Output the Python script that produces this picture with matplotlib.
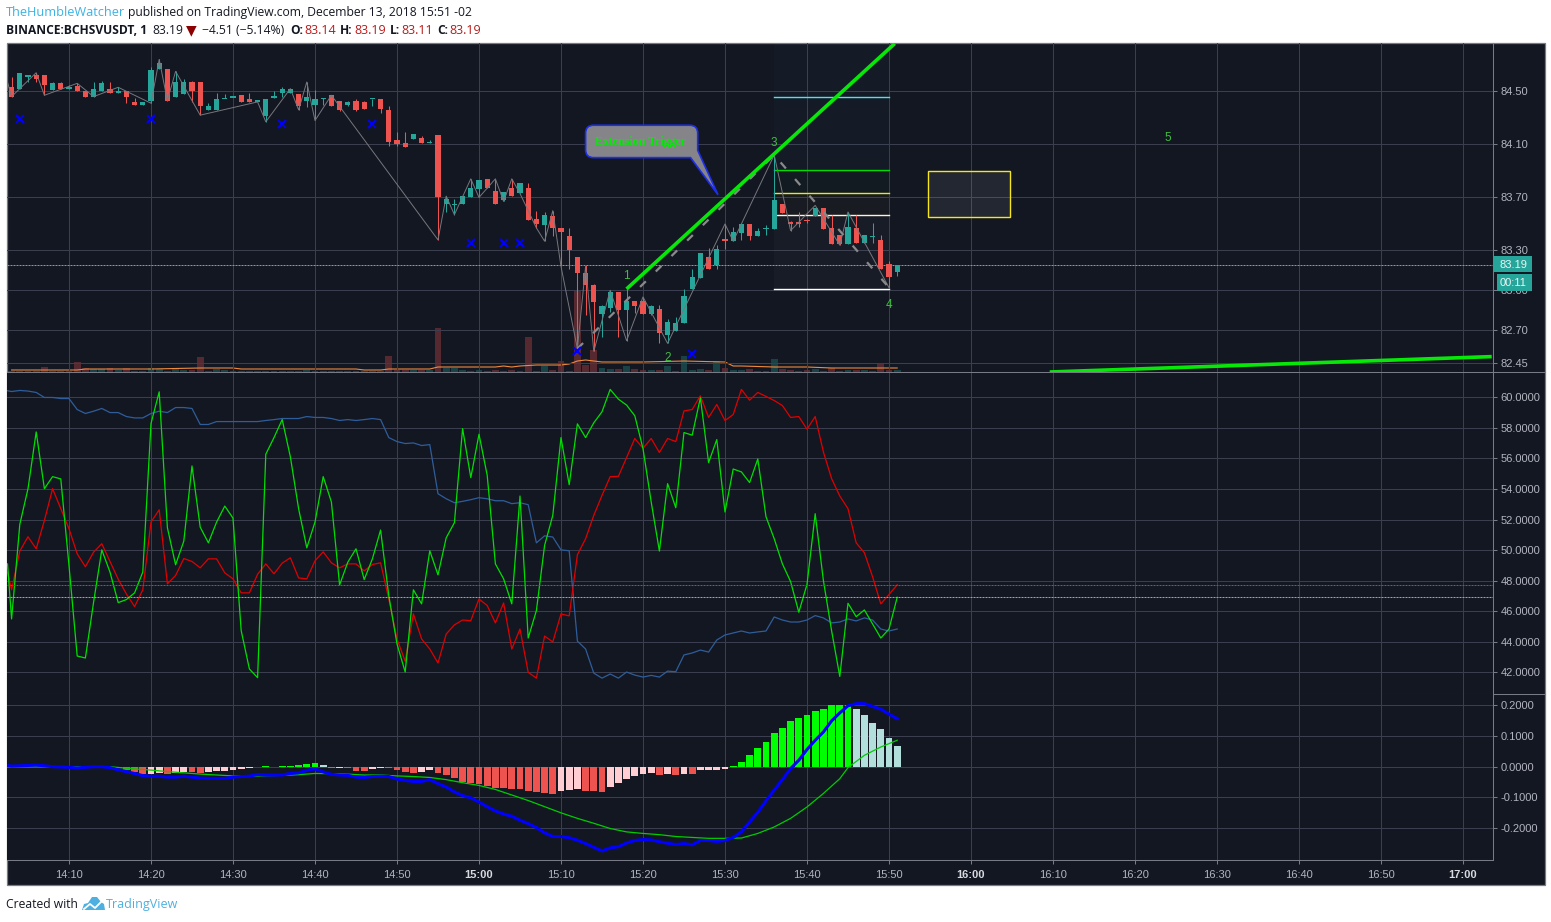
import numpy as np
import matplotlib
matplotlib.use("Agg")
from matplotlib import pyplot as plt
from matplotlib.patches import Rectangle, Polygon, PathPatch
from matplotlib.path import Path

W, H = 1551, 922
BG = "#131722"
GRID = "#3a3e4e"
AXIS = "#787b86"
LABEL = "#b2b5be"
UP = "#26a69a"
DOWN = "#ef5350"

# minutes counted from 14:00, one candle per minute
minutes = np.arange(3, 112)

opens = [84.53,84.52,84.61,84.62,84.62,84.51,84.56,84.52,84.54,84.50,
         84.46,84.50,84.52,84.49,84.50,84.42,84.40,84.43,84.67,84.67,
         84.46,84.48,84.57,84.57,84.36,84.36,84.44,84.45,84.47,84.44,
         84.42,84.31,84.45,84.49,84.49,84.48,84.43,84.40,84.44,84.47,
         84.43,84.40,84.43,84.42,84.44,84.44,84.36,84.13,84.11,84.14,
         84.15,84.11,84.17,83.65,83.64,83.65,83.70,83.76,83.84,83.75,
         83.68,83.77,83.73,83.77,83.54,83.49,83.56,83.47,83.41,83.25,
         83.13,83.04,82.82,82.87,82.99,82.85,82.92,82.92,82.82,82.86,
         82.66,82.69,82.75,83.01,83.09,83.25,83.19,83.39,83.37,83.43,
         83.50,83.41,83.46,83.46,83.65,83.51,83.51,83.53,83.56,83.62,
         83.47,83.42,83.35,83.47,83.36,83.40,83.38,83.20,83.14]
highs = [84.61,84.64,84.62,84.64,84.62,84.57,84.57,84.55,84.56,84.50,
         84.57,84.58,84.57,84.53,84.50,84.45,84.42,84.68,84.74,84.67,
         84.65,84.59,84.58,84.57,84.41,84.49,84.48,84.45,84.47,84.49,
         84.42,84.44,84.50,84.53,84.52,84.48,84.57,84.51,84.45,84.47,
         84.43,84.43,84.44,84.43,84.44,84.44,84.39,84.19,84.19,84.18,
         84.16,84.13,84.17,83.71,83.69,83.71,83.84,83.83,83.84,83.84,
         83.74,83.84,83.81,83.81,83.60,83.59,83.60,83.47,83.47,83.25,
         83.19,83.05,82.89,83.00,82.99,83.01,82.92,82.95,82.89,82.89,
         82.78,82.80,83.01,83.16,83.28,83.32,83.34,83.50,83.48,83.50,
         83.50,83.47,83.49,84.02,83.65,83.52,83.59,83.54,83.62,83.62,
         83.57,83.42,83.59,83.57,83.42,83.51,83.42,83.22,83.19]
lows = [84.46,84.52,84.57,84.57,84.47,84.51,84.52,84.52,84.50,84.46,
        84.46,84.50,84.49,84.49,84.41,84.40,84.40,84.41,84.67,84.43,
        84.46,84.48,84.42,84.32,84.36,84.36,84.45,84.45,84.42,84.42,
        84.42,84.27,84.45,84.46,84.49,84.36,84.38,84.28,84.40,84.39,
        84.35,84.39,84.35,84.37,84.39,84.34,84.09,84.09,84.08,84.14,
        84.11,84.11,83.38,83.59,83.57,83.65,83.70,83.70,83.77,83.65,
        83.67,83.71,83.73,83.53,83.47,83.37,83.41,83.18,83.16,82.56,
        82.81,82.54,82.65,82.84,82.65,82.62,82.83,82.82,82.81,82.60,
        82.60,82.69,82.75,83.01,83.09,83.16,83.16,83.31,83.37,83.38,
        83.38,83.41,83.42,83.46,83.58,83.45,83.48,83.51,83.56,83.46,
        83.35,83.34,83.35,83.36,83.36,83.36,83.16,83.02,83.11]
closes = [84.46,84.64,84.62,84.59,84.55,84.56,84.52,84.53,84.50,84.46,
          84.52,84.56,84.49,84.50,84.46,84.40,84.42,84.66,84.71,84.43,
          84.57,84.57,84.50,84.39,84.39,84.44,84.45,84.45,84.42,84.42,
          84.42,84.44,84.45,84.52,84.52,84.39,84.46,84.44,84.44,84.39,
          84.36,84.42,84.36,84.37,84.44,84.37,84.12,84.10,84.08,84.18,
          84.11,84.12,83.70,83.69,83.65,83.71,83.77,83.83,83.77,83.65,
          83.74,83.71,83.81,83.53,83.50,83.57,83.47,83.44,83.30,83.13,
          83.04,82.91,82.88,82.99,82.85,82.92,82.88,82.82,82.88,82.68,
          82.76,82.75,82.96,83.10,83.28,83.16,83.31,83.37,83.44,83.50,
          83.41,83.45,83.46,83.68,83.58,83.50,83.50,83.52,83.62,83.46,
          83.35,83.35,83.48,83.36,83.42,83.41,83.16,83.10,83.19]
volumes = [1,1,1,1,5,1,1,1,10,4,
           3,3,4,2,4,1,1,4,3,1,
           4,2,2,15,1,3,2,1,1,1,
           1,1,1,1,1,1,2,1,1,1,
           1,1,1,1,1,1,16,2,2,2,
           2,2,44,4,4,2,1,2,1,2,
           1,2,1,35,1,6,2,11,1,81,
           7,22,4,3,3,6,3,2,2,2,
           6,1,16,2,3,2,11,4,2,2,
           3,1,1,13,3,2,1,2,3,1,
           4,1,2,2,2,1,9,2,2]
vol_ma_minutes = [3,11,12,20,26,30,31,45,46,48,49,54,55,62,63,64,65,67,70,71,72,73,75,80,85,90,91,92,96,100,103,111]
vol_ma = [2,2,3,3,4,4,3,3,2,2,3,3,5,5,6,5,6,7,7,8,11,12,10,10,11,10,6,6,5,5,4,4]

# swing line through highs and lows
swing_minutes = [2.5,3,6,7,11,13,16,20,21,22,23,26,33,34,37,38,39,40,42,55,56,57,59,60,62,63,64,65,67,68,69,70,72,73,74,76,78,80,83,90,91,96,98,101,104,105,110]
swing_prices = [84.57,84.46,84.64,84.47,84.56,84.46,84.53,84.41,84.74,84.43,84.65,84.32,84.42,84.27,84.52,84.36,84.57,84.28,84.47,
                83.38,83.71,83.57,83.84,83.70,83.84,83.67,83.84,83.73,83.47,83.37,83.60,83.18,82.56,83.18,82.54,83.00,82.62,82.95,82.60,
                83.50,83.37,84.02,83.45,83.64,83.34,83.59,83.02]
wave_minutes = [72, 96, 110]
wave_prices = [82.56, 84.02, 83.02]
trend_minutes = [78, 110.7]
trend_prices = [83.01, 84.86]
low_trend_minutes = [129.6, 183.5]
low_trend_prices = [82.384, 82.50]
cross_minutes = [4, 20, 36, 47, 59, 63, 65, 72, 86]
cross_prices = [84.29, 84.29, 84.25, 84.25, 83.36, 83.36, 83.36, 82.54, 82.52]
wave_labels = ["1", "2", "3", "4", "5"]
wave_label_minutes = [78, 83, 96, 110, 144]
wave_label_prices = [83.11, 82.49, 84.11, 82.89, 84.15]
fib_levels = [84.46, 83.91, 83.735, 83.57, 83.01]
fib_colors = ["#4fe3e8", "#00e000", "#e8e81e", "#fff3d6", "#ffffff"]

osc_minutes = [2.5] + list(minutes)
osc_green = [49.09,
             45.48,51.68,54.02,57.74,54.02,54.81,54.66,48.98,43.05,42.92,
             46.58,50.01,48.55,46.55,46.75,47.19,48.55,58.29,60.37,51.46,
             49.03,50.58,55.51,51.50,50.47,51.83,52.88,52.09,44.71,42.20,
             41.63,56.28,57.37,58.55,56.10,52.71,50.14,51.83,54.81,53.15,
             47.71,49.20,50.08,48.06,49.42,51.31,47.01,43.84,42.00,47.39,
             46.47,49.95,48.37,50.80,51.79,57.96,54.74,57.59,54.90,49.09,
             48.11,46.47,53.54,44.23,46.03,50.30,52.27,57.37,54.28,58.27,
             57.37,58.34,59.06,60.53,59.89,59.50,58.80,56.65,53.15,49.93,
             54.35,52.77,57.70,57.53,59.98,55.73,57.24,52.49,55.31,55.12,
             54.42,55.97,52.18,50.74,49.09,47.93,45.92,47.74,52.38,48.00,
             44.71,41.71,46.51,45.63,46.07,45.15,44.23,44.82,46.90]
osc_red = [48.55,
           47.39,49.93,50.87,50.08,51.94,54.02,52.71,51.39,49.75,48.90,
           49.86,50.41,49.25,48.09,47.12,46.29,47.39,51.83,52.64,47.78,
           48.33,49.44,49.25,48.83,49.42,49.42,48.50,48.11,47.19,47.19,
           48.41,49.09,48.44,49.14,49.49,48.17,48.11,49.29,49.88,49.16,
           48.83,49.09,49.09,48.63,49.05,49.16,46.79,44.17,42.70,45.81,
           44.17,43.51,42.59,44.49,45.09,45.41,45.37,46.79,46.36,45.22,
           46.53,43.51,44.82,41.98,41.60,44.36,43.97,45.81,45.68,49.69,
           50.74,52.27,53.58,54.81,54.83,56.06,57.31,56.67,57.31,56.39,
           57.31,57.11,59.12,59.21,60.11,58.69,59.54,58.49,58.88,60.53,
           59.82,60.33,60.07,59.80,59.47,58.69,58.75,57.92,58.75,56.43,
           54.68,53.54,52.71,50.47,49.82,48.24,46.47,47.08,47.72]
osc_blue = [60.44,
            60.39,60.46,60.42,60.33,60.00,60.00,59.93,59.93,59.21,58.95,
            59.10,59.28,59.01,59.01,58.75,58.66,58.66,58.95,59.10,59.01,
            59.34,59.34,59.28,58.23,58.23,58.42,58.42,58.42,58.42,58.42,
            58.42,58.49,58.55,58.62,58.62,58.62,58.75,58.69,58.69,58.62,
            58.49,58.55,58.49,58.55,58.62,58.55,57.37,57.11,56.98,57.02,
            56.85,56.91,53.69,53.36,53.10,53.19,53.30,53.43,53.36,53.23,
            53.23,53.04,53.10,52.97,50.47,50.93,50.85,50.01,49.95,44.03,
            43.51,41.93,41.60,41.87,41.60,42.00,41.80,41.67,41.78,41.67,
            42.06,42.02,43.12,43.25,43.44,43.31,44.10,44.43,44.56,44.69,
            44.56,44.63,44.69,45.61,45.41,45.28,45.28,45.41,45.70,45.55,
            45.22,45.28,45.48,45.35,45.55,45.41,44.82,44.69,44.82]
level_red = 47.72
level_green = 46.93

macd_hist = [0,0,0,0,0,0,0,0,0,0,
             0,-0.001,-0.001,-0.003,-0.010,-0.016,-0.024,-0.024,-0.022,-0.024,
             -0.021,-0.017,-0.018,-0.019,-0.017,-0.014,-0.014,-0.010,-0.008,-0.004,
             0,0.002,0,0.001,0.002,0.004,0.009,0.012,0.005,-0.003,
             -0.003,-0.005,-0.013,-0.014,-0.009,-0.004,-0.005,-0.011,-0.018,-0.022,
             -0.017,-0.010,-0.020,-0.028,-0.038,-0.049,-0.054,-0.057,-0.063,-0.068,
             -0.069,-0.073,-0.074,-0.079,-0.082,-0.086,-0.089,-0.079,-0.076,-0.073,
             -0.078,-0.079,-0.081,-0.066,-0.053,-0.040,-0.030,-0.023,-0.021,-0.027,
             -0.023,-0.027,-0.024,-0.025,-0.011,-0.010,-0.010,-0.006,0.002,0.016,
             0.039,0.062,0.081,0.111,0.127,0.150,0.159,0.169,0.182,0.189,
             0.202,0.202,0.202,0.189,0.169,0.143,0.124,0.094,0.068]
macd_line = [0.004,
             0.002,0.003,0.004,0.005,0.003,0,-0.001,-0.002,-0.004,-0.002,
             0,0,-0.003,-0.010,-0.016,-0.022,-0.029,-0.031,-0.031,-0.034,
             -0.034,-0.031,-0.034,-0.037,-0.038,-0.038,-0.038,-0.034,-0.032,-0.031,
             -0.025,-0.027,-0.027,-0.027,-0.022,-0.020,-0.012,-0.007,-0.017,-0.025,
             -0.027,-0.028,-0.034,-0.035,-0.032,-0.031,-0.032,-0.040,-0.045,-0.048,
             -0.048,-0.042,-0.055,-0.066,-0.082,-0.094,-0.101,-0.115,-0.130,-0.144,
             -0.154,-0.161,-0.174,-0.185,-0.198,-0.215,-0.227,-0.227,-0.231,-0.239,
             -0.250,-0.262,-0.274,-0.264,-0.260,-0.248,-0.240,-0.237,-0.238,-0.244,
             -0.249,-0.253,-0.250,-0.254,-0.240,-0.240,-0.243,-0.240,-0.230,-0.212,
             -0.180,-0.148,-0.111,-0.076,-0.042,-0.006,0.021,0.056,0.086,0.113,
             0.149,0.175,0.198,0.205,0.205,0.196,0.187,0.171,0.156]
signal_minutes = [2.5,15,17,19,20,22,24,26,28,30,33,36,38,40,43,46,48,50,52,54,56,58,60,62,64,66,68,70,72,74,76,78,80,82,84,86,88,90,92,94,96,98,100,102,104,105,107,109,110,111]
signal_line = [0,0,-0.005,-0.009,-0.011,-0.016,-0.020,-0.024,-0.027,-0.030,-0.030,-0.028,-0.026,-0.022,-0.023,-0.027,-0.027,-0.030,-0.032,-0.035,
               -0.042,-0.052,-0.061,-0.074,-0.092,-0.110,-0.130,-0.150,-0.168,-0.184,-0.201,-0.212,-0.217,-0.221,-0.227,-0.230,-0.233,-0.233,-0.232,-0.217,
               -0.196,-0.168,-0.131,-0.087,-0.039,-0.003,0.037,0.064,0.075,0.086]

time_ticks = list(range(10, 190, 10))
time_labels = ["14:10","14:20","14:30","14:40","14:50","15:00","15:10","15:20","15:30","15:40","15:50","16:00",
               "16:10","16:20","16:30","16:40","16:50","17:00"]
price_ticks = [84.50, 84.10, 83.70, 83.30, 83.00, 82.70, 82.45]
osc_ticks = [60, 58, 56, 54, 52, 50, 48, 46, 44, 42]
macd_ticks = [0.2, 0.1, 0.0, -0.1, -0.2]
macd_labels = ["0.2000", "0.1000", "0.0000", "-0.1000", "-0.2000"]
last_price = 83.19


def px_rect(left, top, right, bottom):
    return [left / W, 1 - bottom / H, (right - left) / W, (bottom - top) / H]


def fig_xy(x, y):
    return x / W, 1 - y / H


def style_pane(ax, yticks, ylabels):
    ax.set_facecolor(BG)
    ax.set_xlim(2.44, 183.66)
    ax.set_xticks(time_ticks)
    ax.set_yticks(yticks)
    ax.set_yticklabels(ylabels, family="Liberation Sans", fontsize=8, color=LABEL)
    ax.yaxis.tick_right()
    ax.tick_params(axis="y", length=3, width=0.75, color=AXIS, pad=2.5)
    ax.tick_params(axis="x", length=0, labelbottom=False)
    ax.grid(True, color=GRID, linewidth=0.75)
    ax.set_axisbelow(True)
    for side in ["top", "left"]:
        ax.spines[side].set_visible(False)
    for side in ["right", "bottom"]:
        ax.spines[side].set_color(AXIS)
        ax.spines[side].set_linewidth(0.75)


def header_text(x, y, text, color="#131722", weight="normal", size=8.72):
    fig.text(*fig_xy(x, y), text, family="Open Sans", fontsize=size, color=color, weight=weight,
             va="center", ha="left")


fig = plt.figure(figsize=(W / 100, H / 100), dpi=100, facecolor="white")
fig.patches.append(Rectangle(fig_xy(6.5, 885), 1538.5 / W, 842 / H, transform=fig.transFigure,
                             facecolor=BG, edgecolor=AXIS, linewidth=0.9, zorder=-1))
# pane separators run on through the price scale
for sep_y in [372, 694]:
    xs, ys = zip(fig_xy(1493, sep_y), fig_xy(1545, sep_y))
    fig.lines.append(plt.Line2D(xs, ys, transform=fig.transFigure, color=AXIS, linewidth=0.75, zorder=3))

# volume sits in its own axes under the candles
ax_vol = fig.add_axes(px_rect(7, 43, 1493, 372), zorder=1)
ax_vol.set_xlim(2.44, 183.66)
ax_vol.set_ylim(0, 329)
ax_vol.set_facecolor(BG)
ax_vol.axis("off")

ax_price = fig.add_axes(px_rect(7, 43, 1493, 372), zorder=2)
style_pane(ax_price, price_ticks, ["%.2f" % p for p in price_ticks])
ax_price.set_ylim(82.384, 84.864)
ax_price.patch.set_alpha(0)

ax_osc = fig.add_axes(px_rect(7, 372, 1493, 694), zorder=1)
style_pane(ax_osc, osc_ticks, ["%.4f" % v for v in osc_ticks])
ax_osc.set_ylim(40.56, 61.67)

ax_macd = fig.add_axes(px_rect(7, 694, 1493, 860), zorder=1)
style_pane(ax_macd, macd_ticks, macd_labels)
ax_macd.set_ylim(-0.3034, 0.2364)
ax_macd.set_xticklabels(time_labels)
ax_macd.tick_params(axis="x", length=3, width=0.75, color=AXIS, labelbottom=True, pad=4)
for tick, name in zip(ax_macd.get_xticklabels(), time_labels):
    tick.set_family("Liberation Sans")
    tick.set_fontsize(8)
    tick.set_color(LABEL)
    if name.endswith(":00"):
        tick.set_weight("bold")
        tick.set_color("#d8dae0")

# candles
opens = np.array(opens)
closes = np.array(closes)
candle_colors = [UP if c >= o else DOWN for o, c in zip(opens, closes)]
ax_vol.bar(minutes, volumes, width=0.82, color=candle_colors, alpha=0.3, linewidth=0)
ax_vol.plot(vol_ma_minutes, vol_ma, color="#f08a3c", linewidth=0.8)

for level_top, level_bottom, tint in [(84.864, 83.91, "#4fe3e8"), (83.91, 83.735, "#00e000"),
                                      (83.735, 83.57, "#e8e81e"), (83.57, 83.01, "#ffffff")]:
    ax_price.fill_between([96, 110], level_bottom, level_top, color=tint, alpha=0.025, linewidth=0, zorder=1)
for level, color in zip(fib_levels, fib_colors):
    ax_price.plot([96, 110], [level, level], color=color, linewidth=1.0, zorder=2)

ax_price.vlines(minutes, lows, highs, colors=candle_colors, linewidth=0.75, zorder=3)
body_low = np.minimum(opens, closes)
body_height = np.maximum(np.abs(closes - opens), 0.011)
ax_price.bar(minutes, body_height, bottom=body_low, width=0.62, color=candle_colors, linewidth=0, zorder=3)

ax_price.plot(swing_minutes, swing_prices, color="#77777c", linewidth=0.7, zorder=4)
ax_price.plot(wave_minutes, wave_prices, color="#8a8a8a", linewidth=1.6, linestyle=(0, (3.6, 6.3)), zorder=4)
ax_price.plot(trend_minutes, trend_prices, color="#08e808", linewidth=2.6, zorder=5, solid_capstyle="butt")
ax_price.plot(low_trend_minutes, low_trend_prices, color="#08e808", linewidth=2.6, zorder=5, solid_capstyle="butt")
ax_price.plot(cross_minutes, cross_prices, linestyle="none", marker="x", color="#0000ff",
              markersize=6, markeredgewidth=1.5, zorder=6)
ax_price.axhline(last_price, color="#2ec4b6", linewidth=0.72, linestyle=(0, (2, 1)), zorder=2)
for text, m, p in zip(wave_labels, wave_label_minutes, wave_label_prices):
    ax_price.text(m, p, text, color="#3fbf3f", fontsize=8.5, family="Liberation Sans", ha="center", va="center", zorder=6)

# yellow box to the right of the last candle
ax_price.add_patch(Rectangle((114.8, 83.55), 10, 0.35, facecolor="#ffffff", alpha=0.07, linewidth=0, zorder=2))
ax_price.add_patch(Rectangle((114.8, 83.55), 10, 0.35, fill=False, edgecolor="#f5e61e", linewidth=1.0, zorder=2))

# callout, rounded corners are worked out in screen pixels
fig.canvas.draw()
box_x0, box_y0 = ax_price.transData.transform((73.0, 84.00))
box_x1, box_y1 = ax_price.transData.transform((86.67, 84.244))
tail_x, _ = ax_price.transData.transform((85.8, 84.0))
_, tail_y = ax_price.transData.transform((86.67, 84.055))
tip = ax_price.transData.transform((89.15, 83.72))
r = 8
verts = [(box_x0 + r, box_y0), (tail_x, box_y0), tuple(tip), (box_x1, tail_y), (box_x1, box_y1 - r),
         (box_x1, box_y1), (box_x1 - r, box_y1), (box_x0 + r, box_y1), (box_x0, box_y1), (box_x0, box_y1 - r),
         (box_x0, box_y0 + r), (box_x0, box_y0), (box_x0 + r, box_y0)]
codes = [Path.MOVETO, Path.LINETO, Path.LINETO, Path.LINETO, Path.LINETO,
         Path.CURVE3, Path.CURVE3, Path.LINETO, Path.CURVE3, Path.CURVE3,
         Path.LINETO, Path.CURVE3, Path.CURVE3]
ax_price.add_patch(PathPatch(Path(verts, codes), transform=None, facecolor="#858589", edgecolor="#1f2fe8",
                             linewidth=1.2, zorder=7))
ax_price.text(79.7, 84.12, "Extension Trigger", color="#08e808", fontsize=8.6, weight="bold",
              family="Liberation Serif", ha="center", va="center", zorder=8)

# oscillators
ax_osc.plot(osc_minutes, osc_blue, color="#2f5d9b", linewidth=0.9)
ax_osc.plot(osc_minutes, osc_red, color="#e00000", linewidth=0.9)
ax_osc.plot(osc_minutes, osc_green, color="#00e000", linewidth=0.9)
ax_osc.axhline(level_red, color="#ff2020", linewidth=0.72, linestyle=(0, (2, 1)))
ax_osc.axhline(level_green, color="#20ff20", linewidth=0.72, linestyle=(0, (2, 1)))

# macd, histogram colour follows sign and direction
hist_colors = []
prev = 0
for v in macd_hist:
    if v >= 0:
        hist_colors.append("#00ff00" if v >= prev else "#b2dfdb")
    else:
        hist_colors.append("#ef5350" if v < prev else "#ffcdd2")
    prev = v
ax_macd.bar(minutes, macd_hist, width=0.85, color=hist_colors, linewidth=0, zorder=2)
ax_macd.plot(signal_minutes, signal_line, color="#00cc00", linewidth=0.9, zorder=3)
ax_macd.plot(osc_minutes, macd_line, color="#0000ff", linewidth=2.2, zorder=4)

# last price tags on the scale
fig.patches.append(Rectangle(fig_xy(1493, 272), 39 / W, 16 / H, transform=fig.transFigure,
                             facecolor=UP, linewidth=0, zorder=5))
fig.patches.append(Rectangle(fig_xy(1497, 291), 35 / W, 17 / H, transform=fig.transFigure,
                             facecolor=UP, linewidth=0, zorder=5))
fig.text(*fig_xy(1500, 264.5), "83.19", family="Liberation Sans", fontsize=8, color="#eaf6f5", va="center", zorder=6)
fig.text(*fig_xy(1500, 282.5), "00:11", family="Liberation Sans", fontsize=8, color="#eaf6f5", va="center", zorder=6)

# header
header_text(6, 12.5, "TheHumbleWatcher", color="#3bb3e4", size=9.15)
header_text(128, 12.5, "published on TradingView.com, December 13, 2018 15:51 -02")
header_text(6, 30, "BINANCE:BCHSVUSDT, 1", weight="bold", size=8.65)
header_text(152, 30, "83.19")
fig.text(*fig_xy(186, 30), "\u25bc", family="DejaVu Sans", fontsize=10, color="#8b0000", va="center")
header_text(201.5, 30, "\u22124.51 (\u22125.14%)")
for x_key, key in [(290, "O:"), (340, "H:"), (390, "L:"), (437, "C:")]:
    header_text(x_key, 30, key, weight="bold", size=8.65)
value_map = {304: "83.14", 354: "83.19", 401: "83.11", 449: "83.19"}
for x_val, val in value_map.items():
    header_text(x_val, 30, val, color="#b71c1c", size=9)

# footer with a small cloud logo
header_text(6, 904.5, "Created with")
logo = [(82, 910), (84, 904), (88, 903), (92, 897), (97, 897), (101, 902), (104, 904), (105, 910)]
fig.patches.append(Polygon([fig_xy(x, y) for x, y in logo], closed=True, transform=fig.transFigure,
                           facecolor="#4db0e0", linewidth=0, zorder=3))
fig.lines.append(plt.Line2D(*zip(*[fig_xy(x, y) for x, y in [(84, 909), (90, 904), (95, 908), (101, 902)]]),
                            transform=fig.transFigure, color="white", linewidth=1.3, zorder=4))
header_text(106, 904.5, "TradingView", color="#4db0e0", size=9)

fig.savefig("out.png", dpi=100, facecolor="white")
